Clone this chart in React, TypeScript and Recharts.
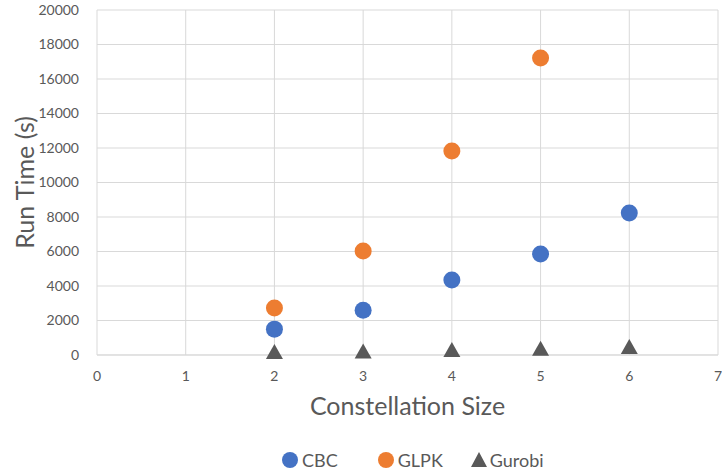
import React from 'react';
import { ScatterChart, Scatter, XAxis, YAxis, CartesianGrid } from 'recharts';

const cbcSizes = [2, 3, 4, 5, 6];
const cbcTimes = [1500, 2600, 4350, 5850, 8230];
const glpkSizes = [2, 3, 4, 5];
const glpkTimes = [2720, 6030, 11830, 17220];
const gurobiSizes = [2, 3, 4, 5, 6];
const gurobiTimes = [110, 150, 230, 300, 400];
const xTicks = [0, 1, 2, 3, 4, 5, 6, 7];
const yTicks = [0, 2000, 4000, 6000, 8000, 10000, 12000, 14000, 16000, 18000, 20000];

const toPoints = (xs: number[], ys: number[]) => xs.map((x, i) => ({ x, y: ys[i] }));
const cbcData = toPoints(cbcSizes, cbcTimes);
const glpkData = toPoints(glpkSizes, glpkTimes);
const gurobiData = toPoints(gurobiSizes, gurobiTimes);

const FONT = 'Lato, "Open Sans", "Liberation Sans", sans-serif';
const TEXT = '#595959';
const BLUE = '#4472C4';
const ORANGE = '#ED7D31';
const GRAY = '#595959';

const Dot = (color: string) => (props: any) => (
  <circle cx={props.cx} cy={props.cy} r={8.5} fill={color} />
);
const Tri = (props: any) => {
  const { cx, cy } = props;
  return <polygon points={`${cx},${cy - 9} ${cx - 8.5},${cy + 6} ${cx + 8.5},${cy + 6}`} fill={GRAY} />;
};

const LegendBox = () => (
  <div style={{ position: 'absolute', left: 280, top: 449, display: 'flex', alignItems: 'center', fontFamily: FONT, fontSize: 18, color: TEXT, lineHeight: '22px' }}>
    <svg width={20} height={20}><circle cx={10} cy={10} r={8} fill={BLUE} /></svg>
    <span style={{ marginLeft: 2, marginRight: 38 }}>CBC</span>
    <svg width={20} height={20}><circle cx={10} cy={10} r={8} fill={ORANGE} /></svg>
    <span style={{ marginLeft: 2, marginRight: 26 }}>GLPK</span>
    <svg width={20} height={20}><polygon points="10,2 2,17 18,17" fill={GRAY} /></svg>
    <span style={{ marginLeft: 1 }}>Gurobi</span>
  </div>
);

export default function App() {
  return (
    <div style={{ position: 'absolute', left: 0, top: 0, width: 722, height: 471, background: '#fff' }}>
      <ScatterChart width={722} height={471} margin={{ top: 10, right: 4, bottom: 46, left: 37 }}>
        <CartesianGrid stroke="#d9d9d9" strokeWidth={1} />
        <XAxis
          type="number"
          dataKey="x"
          domain={[0, 7]}
          ticks={xTicks}
          interval={0}
          stroke="#d9d9d9"
          tickLine={false}
          tick={{ fill: TEXT, fontSize: 14, fontFamily: FONT }}
          tickMargin={10}
          height={70}
          label={{ value: 'Constellation Size', position: 'insideBottom', offset: 10, fill: TEXT, fontSize: 25, fontFamily: FONT }}
        />
        <YAxis
          type="number"
          dataKey="y"
          domain={[0, 20000]}
          ticks={yTicks}
          interval={0}
          axisLine={false}
          tickLine={false}
          tick={{ fill: TEXT, fontSize: 14, fontFamily: FONT }}
          tickMargin={12}
          width={60}
          label={{ value: 'Run Time (s)', angle: -90, position: 'insideLeft', offset: -12, fill: TEXT, fontSize: 25, fontFamily: FONT, style: { textAnchor: 'middle' } }}
        />
        <Scatter name="CBC" data={cbcData} fill={BLUE} shape={Dot(BLUE)} isAnimationActive={false} />
        <Scatter name="GLPK" data={glpkData} fill={ORANGE} shape={Dot(ORANGE)} isAnimationActive={false} />
        <Scatter name="Gurobi" data={gurobiData} fill={GRAY} shape={Tri} isAnimationActive={false} />
      </ScatterChart>
      <LegendBox />
    </div>
  );
}
